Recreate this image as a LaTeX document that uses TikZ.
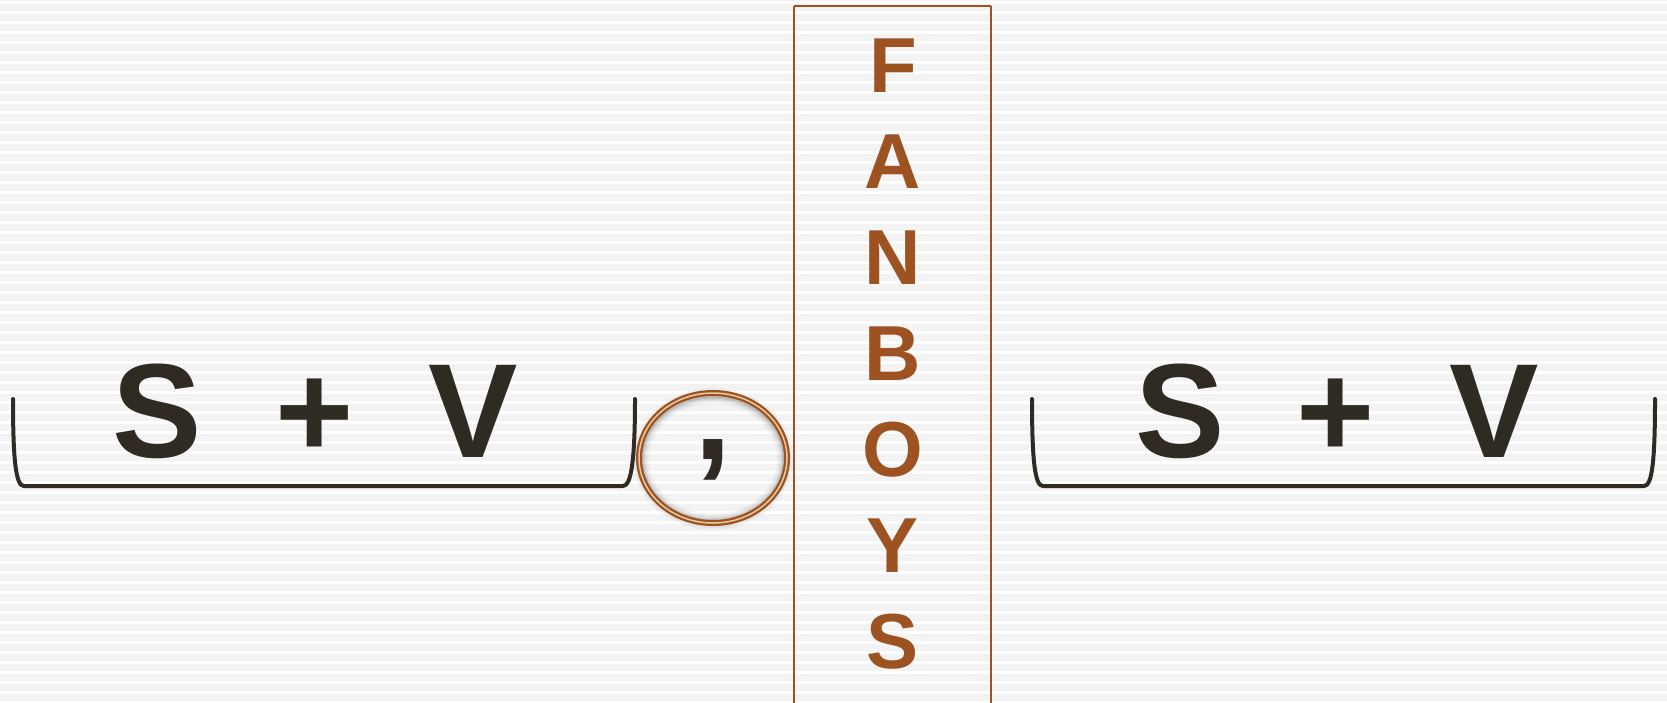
\documentclass[tikz,border=0pt]{standalone}
\usepackage{fontspec}
\setmainfont{Liberation Sans}
\definecolor{brn}{HTML}{9C5221}
\definecolor{brnlt}{HTML}{E9C9A0}
\definecolor{ink}{HTML}{2F2B22}
\definecolor{bg}{HTML}{F3F3F3}
\tikzset{
  fan/.style={anchor=base, text=brn, inner sep=0pt, font=\fontsize{78}{80}\selectfont\bfseries},
  sv/.style={anchor=base, text=ink, inner sep=0pt, font=\fontsize{134}{136}\selectfont\bfseries},
  bracket/.style={draw=ink, line width=4pt, line cap=round, line join=round},
}
\begin{document}
\begin{tikzpicture}[x=1pt,y=-1pt]
\useasboundingbox (0,0) rectangle (1667,702);
\begin{scope}
\clip (0,0) rectangle (1667,702);
\fill[bg] (0,0) rectangle (1667,702);
\foreach \i in {0,...,70} {
  \fill[white] (0,{\i*10+1}) rectangle (1667,{\i*10+4});
}
% box
\draw[brn, line width=2pt] (794,5.5) -- (991,5.5) (794,5.5) -- (794,720) (991,5.5) -- (991,720);
\end{scope}
% FANBOYS
\node[fan] (f1) at (893,92.5) {F};
\node[fan] (f2) at (893,188.5) {A};
\node[fan] (f3) at (893,284.5) {N};
\node[fan] (f4) at (893,380.5) {B};
\node[fan] (f5) at (893,476.5) {O};
\node[fan] (f6) at (893,572.5) {Y};
\node[fan] (f7) at (893,668.5) {S};
% left clause
\node[sv] (s1) at (157,457) {S};
\node[sv] (p1) at (315,457) {+};
\node[sv] (v1) at (473,457) {V};
\draw[bracket] (13,399) .. controls (13,462) and (16,486) .. (24,486) -- (623,486) .. controls (631,486) and (635,462) .. (635,399);
% right clause
\node[sv] (s2) at (1180,457) {S};
\node[sv] (p2) at (1336,457) {+};
\node[sv] (v2) at (1494,457) {V};
\draw[bracket] (1032,399) .. controls (1032,462) and (1035,486) .. (1043,486) -- (1644,486) .. controls (1652,486) and (1655,462) .. (1655,399);
% comma circle
\coordinate (cc) at (713,458);
\foreach \w/\o in {16/0.05,12/0.08,8/0.12,5/0.2} {
  \draw[black!60, line width=\w pt, opacity=\o] ([yshift=-1pt]cc) ellipse [x radius=72, y radius=63];
}
\draw[brn, line width=6pt] (cc) ellipse [x radius=74, y radius=65];
\draw[brnlt, line width=1.5pt] (cc) ellipse [x radius=74, y radius=65];
\node[sv] (cm) at (713,459) {,};
\end{tikzpicture}
\end{document}
